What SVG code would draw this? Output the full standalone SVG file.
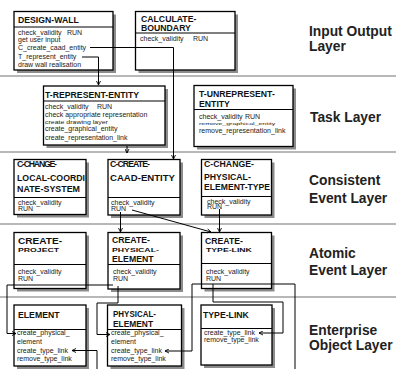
<svg xmlns="http://www.w3.org/2000/svg" width="396" height="369" viewBox="0 0 396 369">
<style>
.box{fill:#fff;stroke:#000;stroke-width:1.3}
.sh{fill:#8c8c8c}
.dv{stroke:#000;stroke-width:1}
.t{font-family:"Liberation Sans",Arial,sans-serif;font-weight:bold;font-size:8.7px;fill:#111}
.b{font-family:"Liberation Sans",Arial,sans-serif;font-size:7px;fill:#222}
.lbl{font-family:"Liberation Sans",Arial,sans-serif;font-weight:bold;font-size:13.8px;fill:#222}
.sep{stroke:#a0a0a0;stroke-width:1.3}
.c{fill:none;stroke:#000;stroke-width:1;marker-end:url(#ar)}
.cn{fill:none;stroke:#000;stroke-width:1}
</style>
<defs>
<marker id="ar" viewBox="0 0 5 5" refX="4.5" refY="2.5" markerWidth="5" markerHeight="5" markerUnits="userSpaceOnUse" orient="auto">
<path d="M0.5,0.5 L4.5,2.5 L0.5,4.5" fill="none" stroke="#000" stroke-width="0.9"/>
</marker>
</defs>
<rect width="396" height="369" fill="#fff"/>
<g id="separators">
<line class="sep" x1="0" y1="76" x2="396" y2="76"/>
<line class="sep" x1="0" y1="152" x2="396" y2="152"/>
<line class="sep" x1="0" y1="224" x2="396" y2="224"/>
<line class="sep" x1="0" y1="297" x2="396" y2="297"/>
</g>
<g id="layer-labels">
<text class="lbl" x="309" y="36">Input Output</text>
<text class="lbl" x="309" y="51">Layer</text>
<text class="lbl" x="310" y="122">Task Layer</text>
<text class="lbl" x="309" y="185">Consistent</text>
<text class="lbl" x="309" y="203">Event Layer</text>
<text class="lbl" x="309" y="258">Atomic</text>
<text class="lbl" x="309" y="275">Event Layer</text>
<text class="lbl" x="309" y="335">Enterprise</text>
<text class="lbl" x="309" y="350">Object Layer</text>
</g>
<g id="design-wall">
<rect class="sh" x="17" y="14.5" width="99" height="58.5"/>
<rect class="box" x="14" y="11.5" width="99" height="58.5"/>
<line class="dv" x1="14" y1="27" x2="113" y2="27"/>
<text class="t" x="18" y="22.5">DESIGN-WALL</text>
<text class="b" x="18" y="35">check_validity</text><text class="b" x="67" y="35">RUN</text>
<text class="b" x="18" y="42">get user input</text>
<text class="b" x="18" y="50">C_create_caad_entity</text>
<text class="b" x="18" y="58.5">T_represent_entity</text>
<text class="b" x="18" y="66.5">draw wall realisation</text>
</g>
<g id="calculate-boundary">
<rect class="sh" x="138.5" y="14.5" width="99.5" height="58.5"/>
<rect class="box" x="135.5" y="11.5" width="99.5" height="58.5"/>
<line class="dv" x1="135.5" y1="33" x2="235" y2="33"/>
<text class="t" x="141" y="22">CALCULATE-</text>
<text class="t" x="141" y="30.5">BOUNDARY</text>
<text class="b" x="140" y="41">check_validity</text><text class="b" x="193" y="41">RUN</text>
</g>
<g id="t-represent-entity">
<rect class="sh" x="46.5" y="89" width="121.5" height="59"/>
<rect class="box" x="43.5" y="86" width="121.5" height="59"/>
<line class="dv" x1="43.5" y1="101" x2="165" y2="101"/>
<text class="t" x="45" y="97.5">T-REPRESENT-ENTITY</text>
<text class="b" x="45" y="109">check_validity</text><text class="b" x="97" y="109">RUN</text>
<text class="b" x="45" y="116.8">check appropriate representation</text>
<text class="b" transform="translate(45,124) scale(1,0.75)">create drawing layer</text>
<text class="b" x="45" y="130.8">create_graphical_entity</text>
<text class="b" x="45" y="140">create_representation_link</text>
</g>
<g id="t-unrepresent-entity">
<rect class="sh" x="197" y="88.5" width="99" height="61"/>
<rect class="box" x="194" y="85.5" width="99" height="61"/>
<line class="dv" x1="194" y1="109.5" x2="293" y2="109.5"/>
<text class="t" x="199" y="96.5" font-weight="normal" style="font-weight:600">T-UNREPRESENT-</text>
<text class="t" x="199" y="106.5" style="font-weight:600">ENTITY</text>
<text class="b" x="199" y="119" font-size="6">check_validity</text><text class="b" x="245" y="119" font-size="6">RUN</text>
<text class="b" font-size="6.4" transform="translate(199,125) scale(1,0.6)">remove_graphical_entity</text>
<text class="b" x="199" y="133">remove_representation_link</text>
</g>
<g id="c-change-local-coordinate-system">
<rect class="sh" x="17" y="162.5" width="72" height="55"/>
<rect class="box" x="14" y="159.5" width="72" height="55"/>
<line class="dv" x1="14" y1="197.5" x2="86" y2="197.5"/>
<text class="t" x="17" y="167" font-size="5.5" textLength="40" lengthAdjust="spacing">C-CHANGE-</text>
<text class="t" x="17" y="180.5" font-size="10.5" textLength="68" lengthAdjust="spacingAndGlyphs">LOCAL-COORDI</text>
<text class="t" x="17" y="192" font-size="10.5" textLength="63" lengthAdjust="spacingAndGlyphs">NATE-SYSTEM</text>
<text class="b" x="18" y="204.5" font-size="5.8">check_validity</text>
<text class="b" x="18" y="210.5" font-size="5.8">RUN</text>
</g>
<g id="c-create-caad-entity">
<rect class="sh" x="111" y="162.5" width="72" height="55.5"/>
<rect class="box" x="108" y="159.5" width="72" height="55.5"/>
<line class="dv" x1="108" y1="197.5" x2="180" y2="197.5"/>
<text class="t" x="110" y="167" font-size="5.5" textLength="40" lengthAdjust="spacing">C-CREATE-</text>
<text class="t" x="110" y="181" font-size="10.5" textLength="65" lengthAdjust="spacingAndGlyphs">CAAD-ENTITY</text>
<text class="b" x="111" y="204.5" font-size="5.8">check_validity</text>
<text class="b" x="111" y="210.5" font-size="5.8">RUN</text>
</g>
<g id="c-change-physical-element-type">
<rect class="sh" x="204.5" y="162.5" width="70" height="55.5"/>
<rect class="box" x="201.5" y="159.5" width="70" height="55.5"/>
<line class="dv" x1="201.5" y1="196.5" x2="271.5" y2="196.5"/>
<text class="t" x="204" y="167" font-size="5.5" textLength="50" lengthAdjust="spacing">C-CHANGE-</text>
<text class="t" x="204" y="179.5">PHYSICAL-</text>
<text class="t" x="204" y="190" textLength="66" lengthAdjust="spacingAndGlyphs">ELEMENT-TYPE</text>
<text class="b" x="207" y="203.5" font-size="5.4">check_validity</text>
<text class="b" x="207" y="209" font-size="5">RUN</text>
</g>
<g id="create-project">
<rect class="sh" x="17" y="235.5" width="72" height="56"/>
<rect class="box" x="14" y="232.5" width="72" height="56"/>
<line class="dv" x1="14" y1="264.5" x2="86" y2="264.5"/>
<text class="t" x="18" y="243.5" font-size="9" textLength="44" lengthAdjust="spacingAndGlyphs">CREATE-</text>
<text class="t" transform="translate(18,252) scale(1,0.55)" font-size="8.5">PROJECT</text>
<text class="b" x="18" y="274">check_validity</text>
<text class="b" x="18" y="280.5">RUN</text>
</g>
<g id="create-physical-element">
<rect class="sh" x="111" y="235.5" width="72" height="56.5"/>
<rect class="box" x="108" y="232.5" width="72" height="56.5"/>
<line class="dv" x1="108" y1="264.5" x2="180" y2="264.5"/>
<text class="t" x="112" y="242.5" font-size="8.6">CREATE-</text>
<text class="t" transform="translate(112,251.5) scale(1,0.55)" font-size="8.6">PHYSICAL-</text>
<text class="t" x="112" y="261.5" font-size="8.6">ELEMENT</text>
<text class="b" x="113" y="274">check_validity</text>
<text class="b" x="113" y="280.5">RUN</text>
</g>
<g id="create-type-link">
<rect class="sh" x="204.5" y="235.5" width="70" height="56"/>
<rect class="box" x="201.5" y="232.5" width="70" height="56"/>
<line class="dv" x1="201.5" y1="263.5" x2="271.5" y2="263.5"/>
<text class="t" x="205" y="243.5" font-size="8.5">CREATE-</text>
<text class="t" transform="translate(206,251.5) scale(1,0.55)" font-size="8.5">TYPE-LINK</text>
<text class="b" x="206" y="274" font-size="6.8">check_validity</text>
<text class="b" x="206" y="280.5" font-size="6.8">RUN</text>
</g>
<g id="element">
<rect class="sh" x="17" y="308" width="72" height="61"/>
<rect class="box" x="14" y="305" width="72" height="61"/>
<line class="dv" x1="14" y1="329.5" x2="86" y2="329.5"/>
<text class="t" x="18" y="317.5" font-size="8">ELEMENT</text>
<text class="b" x="17" y="335" font-size="6.7">create_physical_</text>
<text class="b" x="17" y="344" font-size="6.7">element</text>
<text class="b" x="17" y="352.5" font-size="6.7">create_type_link</text>
<text class="b" x="17" y="361" font-size="6.7">remove_type_link</text>
</g>
<g id="physical-element">
<rect class="sh" x="110.5" y="308" width="74" height="61"/>
<rect class="box" x="107.5" y="305" width="74" height="61"/>
<line class="dv" x1="107.5" y1="329.5" x2="181.5" y2="329.5"/>
<text class="t" x="113" y="316.5" font-size="10.5" textLength="43" lengthAdjust="spacingAndGlyphs">PHYSICAL-</text>
<text class="t" x="113" y="326.5" font-size="10.5" textLength="40" lengthAdjust="spacingAndGlyphs">ELEMENT</text>
<text class="b" x="111" y="335" font-size="6.7">create_physical_</text>
<text class="b" x="111" y="344" font-size="6.7">element</text>
<text class="b" x="111" y="352.5" font-size="6.7">create_type_link</text>
<text class="b" x="111" y="361" font-size="6.7">remove_type_link</text>
</g>
<g id="type-link">
<rect class="sh" x="204" y="308" width="71" height="60"/>
<rect class="box" x="201" y="305" width="71" height="60"/>
<line class="dv" x1="201" y1="328.5" x2="272" y2="328.5"/>
<text class="t" x="203" y="317.5" font-size="8.6">TYPE-LINK</text>
<text class="b" x="204" y="335" font-size="6.2">create_type_link</text>
<text class="b" x="204" y="341.5" font-size="6.2">remove_type_link</text>
</g>
<g id="connectors">
<path class="c" d="M90,47.5 H173.5 V159"/>
<path class="c" d="M82,57 H98.5 V85"/>
<path class="c" d="M127,146 V153"/>
<path class="c" d="M120.5,212 V232"/>
<path class="c" d="M132,210 L211,232"/>
<path class="c" d="M219.5,209 V232"/>
<path class="c" d="M113,285 H7 V333.5 H16"/>
<path class="c" d="M118,286 V303 H97 V334.5 H110"/>
<path class="c" d="M295,369 V284 H192 V351 H165"/>
<path class="c" d="M213,284 V302 H283 V333 H259"/>
<path class="c" d="M97,369 V350.5 H72"/>
</g>
</svg>
